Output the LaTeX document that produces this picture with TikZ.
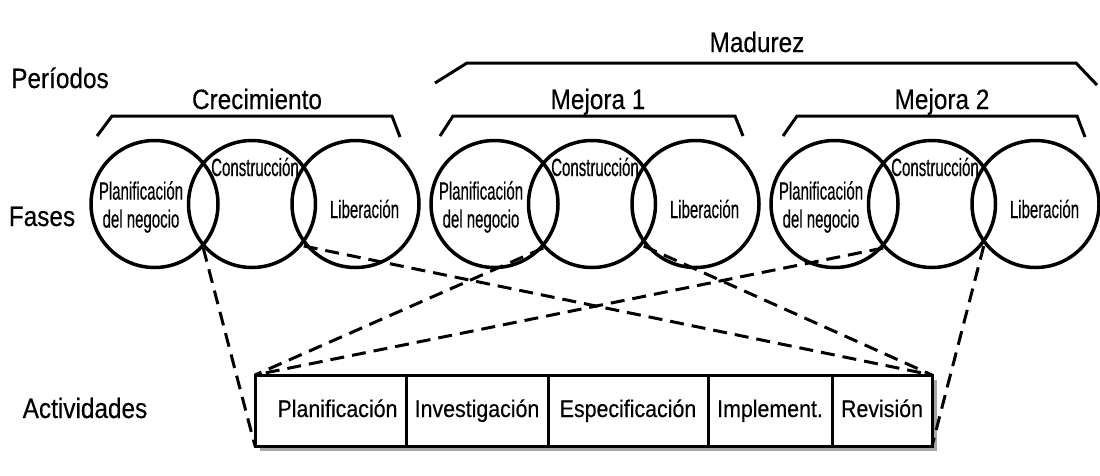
\documentclass[tikz,border=0pt]{standalone}
\usepackage{fontspec}
\setmainfont{Liberation Sans}
\newfontfamily\periodfont[FakeStretch=0.87, FakeBold=0.4]{Liberation Sans}
\newfontfamily\phasefont[FakeStretch=0.6, FakeBold=0.4]{Liberation Sans}
\newfontfamily\actfont[FakeStretch=0.89, FakeBold=0.4]{Liberation Sans}
\usetikzlibrary{positioning, calc, shadows}

\begin{document}
\begin{tikzpicture}[
    x=1pt, y=1pt,
    fase/.style={circle, draw, line width=3.5pt, minimum size=127pt, inner sep=0pt, outer sep=0pt},
    fasetext/.style={align=center, inner sep=0pt, font=\phasefont\fontsize{25}{28}\selectfont},
    periodo/.style={inner sep=0pt, anchor=base, font=\periodfont\fontsize{28}{30}\selectfont},
    actividad/.style={rectangle, draw, fill=white, line width=3pt, minimum height=71pt, inner sep=0pt, outer sep=0pt,
        text height=18pt, text depth=5pt, font=\actfont\fontsize{24}{28}\selectfont,
        drop shadow={shadow xshift=5pt, shadow yshift=-5pt, opacity=0.7}},
    bracket/.style={line width=3pt},
    link/.style={line width=3pt, dash pattern=on 14pt off 8pt}
]
    \useasboundingbox (0,0) rectangle (1100,-475);
    % Row labels
    \node[periodo] (periodos) at (60,-88) {Períodos};
    \node[periodo] (fases) at (42,-226) {Fases};
    \node[periodo] (actividades) at (85,-418) {Actividades};
    % Phases
    \node[fase] (plan1) at (154.5,-204) {};
    \node[fase, right=-29.5pt of plan1] (cons1) {};
    \node[fase, right=-23.5pt of cons1] (lib1) {};
    \node[fase, right=12pt of lib1] (plan2) {};
    \node[fase, right=-29.5pt of plan2] (cons2) {};
    \node[fase, right=-23.5pt of cons2] (lib2) {};
    \node[fase, right=12pt of lib2] (plan3) {};
    \node[fase, right=-29.5pt of plan3] (cons3) {};
    \node[fase, right=-23.5pt of cons3] (lib3) {};
    \node[fasetext] (plan1t) at ($(plan1)+(-13.5,-3)$) {Planificación\\del negocio};
    \node[fasetext, anchor=base] (cons1t) at ($(cons1)+(3,28)$) {Construcción};
    \node[fasetext, anchor=base] (lib1t) at ($(lib1)+(9,-14)$) {Liberación};
    \node[fasetext] (plan2t) at ($(plan2)+(-13.5,-3)$) {Planificación\\del negocio};
    \node[fasetext, anchor=base] (cons2t) at ($(cons2)+(3,28)$) {Construcción};
    \node[fasetext, anchor=base] (lib2t) at ($(lib2)+(9,-14)$) {Liberación};
    \node[fasetext] (plan3t) at ($(plan3)+(-13.5,-3)$) {Planificación\\del negocio};
    \node[fasetext, anchor=base] (cons3t) at ($(cons3)+(3,28)$) {Construcción};
    \node[fasetext, anchor=base] (lib3t) at ($(lib3)+(9,-14)$) {Liberación};
    % Periods
    \draw[bracket] (97,-136) -- (112,-116) -- (392,-116) -- (400,-137);
    \node[periodo] (crec) at (257,-109) {Crecimiento};
    \draw[bracket] (440,-136) -- (453,-116) -- (735,-116) -- (743,-136);
    \node[periodo] (mej1) at (598,-109) {Mejora 1};
    \draw[bracket] (783,-136) -- (797,-116) -- (1077,-116) -- (1085,-137);
    \node[periodo] (mej2) at (942,-109) {Mejora 2};
    \draw[bracket] (435,-83) -- (467,-63) -- (1076,-63) -- (1097,-85);
    \node[periodo] (madurez) at (757,-52) {Madurez};
    % Activities
    \node[actividad, minimum width=151pt, anchor=north west] (plani) at (255,-375) {\hspace{14pt}Planificación};
    \node[actividad, minimum width=142pt, right=0pt of plani] (inves) {Investigación};
    \node[actividad, minimum width=160pt, right=0pt of inves] (espec) {Especificación};
    \node[actividad, minimum width=124pt, right=0pt of espec] (implem) {Implement.};
    \node[actividad, minimum width=100pt, right=0pt of implem] (revis) {Revisión};
    % Connections
    \coordinate (pc1) at ($(plan1)!0.5!(cons1)+(0,-44)$);
    \coordinate (cl1) at ($(cons1)!0.5!(lib1)+(0,-42)$);
    \coordinate (pc2) at ($(plan2)!0.5!(cons2)+(0,-44)$);
    \coordinate (cl2) at ($(cons2)!0.5!(lib2)+(0,-42)$);
    \coordinate (pc3) at ($(plan3)!0.5!(cons3)+(0,-44)$);
    \coordinate (cl3) at ($(cons3)!0.5!(lib3)+(0,-42)$);
    \draw[link] (pc1) -- (plani.south west);
    \draw[link] (cl1) -- (revis.north east);
    \draw[link] (pc2) -- (plani.north west);
    \draw[link] (cl2) -- (revis.north east);
    \draw[link] (pc3) -- (plani.north west);
    \draw[link] (cl3) -- (revis.south east);
\end{tikzpicture}
\end{document}
